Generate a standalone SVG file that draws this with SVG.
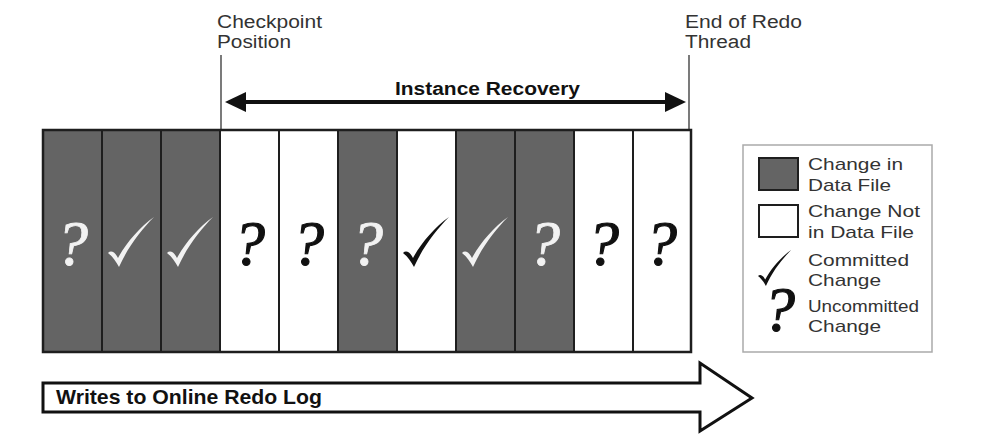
<svg xmlns="http://www.w3.org/2000/svg" width="984" height="440" viewBox="0 0 984 440">
<style>
.lbl{font-family:"Liberation Sans",Arial,sans-serif;font-size:18px;fill:#333}
.leg{font-family:"Liberation Sans",Arial,sans-serif;font-size:17px;fill:#333}
.bold{font-family:"Liberation Sans",Arial,sans-serif;font-weight:bold;fill:#111}
.q{font-family:"Liberation Serif","Times New Roman",serif;font-style:italic;font-size:64px;text-anchor:middle}
.dark{fill:#646464;stroke:#1e1e1e;stroke-width:2}
.light{fill:#fff;stroke:#1e1e1e;stroke-width:2}
.wq{fill:#f2f2f2;stroke:#f2f2f2;stroke-width:0.8}
.bq{fill:#111;stroke:#111;stroke-width:1.1}
.guide{stroke:#333;stroke-width:1.3;fill:none}
</style>
<defs>
<path id="check" d="M0,36 C3,33 7,35 10,41 C18,26 32,10 46,0 C33,13 20,30 11,50 C8,44 4,39 0,36 Z"/>
</defs>
<rect width="984" height="440" fill="#fff"/>

<g id="labels">
<text class="lbl" x="217" y="28" textLength="105" lengthAdjust="spacingAndGlyphs">Checkpoint</text>
<text class="lbl" x="217" y="48" textLength="74" lengthAdjust="spacingAndGlyphs">Position</text>
<text class="lbl" x="685" y="28" textLength="117" lengthAdjust="spacingAndGlyphs">End of Redo</text>
<text class="lbl" x="685" y="48" textLength="66" lengthAdjust="spacingAndGlyphs">Thread</text>
</g>

<g id="connectors">
<line class="guide" x1="221" y1="55" x2="221" y2="130"/>
<line class="guide" x1="689" y1="55" x2="689" y2="130"/>
<line x1="240" y1="102" x2="670" y2="102" stroke="#111" stroke-width="4"/>
<polygon points="225,102 246,92 246,112" fill="#111"/>
<polygon points="686,102 665,92 665,112" fill="#111"/>
<text class="bold" x="395" y="95" font-size="18" textLength="185" lengthAdjust="spacingAndGlyphs">Instance Recovery</text>
</g>

<g id="log">
<rect id="cell1" class="dark" x="43" y="130" width="59" height="222"/>
<rect id="cell2" class="dark" x="102" y="130" width="59" height="222"/>
<rect id="cell3" class="dark" x="161" y="130" width="59" height="222"/>
<rect id="cell4" class="light" x="220" y="130" width="59" height="222"/>
<rect id="cell5" class="light" x="279" y="130" width="59" height="222"/>
<rect id="cell6" class="dark" x="338" y="130" width="59" height="222"/>
<rect id="cell7" class="light" x="397" y="130" width="59" height="222"/>
<rect id="cell8" class="dark" x="456" y="130" width="59" height="222"/>
<rect id="cell9" class="dark" x="515" y="130" width="59" height="222"/>
<rect id="cell10" class="light" x="574" y="130" width="59" height="222"/>
<rect id="cell11" class="light" x="633" y="130" width="58" height="222"/>
<rect x="43" y="130" width="648" height="222" fill="none" stroke="#1e1e1e" stroke-width="2.5"/>

<text class="q wq" x="72" y="265">?</text>
<use href="#check" fill="#f2f2f2" transform="translate(108,217)"/>
<use href="#check" fill="#f2f2f2" transform="translate(167,217)"/>
<text class="q bq" x="249" y="265">?</text>
<text class="q bq" x="308" y="265">?</text>
<text class="q wq" x="367" y="265">?</text>
<use href="#check" fill="#111" transform="translate(403,217)"/>
<use href="#check" fill="#f2f2f2" transform="translate(462,217)"/>
<text class="q wq" x="544" y="265">?</text>
<text class="q bq" x="603" y="265">?</text>
<text class="q bq" x="661" y="265">?</text>
</g>

<g id="legend">
<rect x="743" y="145" width="189" height="207" fill="#fff" stroke="#aaa" stroke-width="1.5"/>
<rect x="759" y="158" width="39" height="32" fill="#646464" stroke="#1e1e1e" stroke-width="2"/>
<rect x="759" y="205" width="39" height="32" fill="#fff" stroke="#1e1e1e" stroke-width="2"/>
<use href="#check" fill="#111" transform="translate(758,250) scale(0.72)"/>
<text class="q bq" x="779" y="331" font-size="46" stroke-width="0.5">?</text>
<text class="leg" x="808" y="170" textLength="95" lengthAdjust="spacingAndGlyphs">Change in</text>
<text class="leg" x="808" y="191" textLength="83" lengthAdjust="spacingAndGlyphs">Data File</text>
<text class="leg" x="808" y="217" textLength="112" lengthAdjust="spacingAndGlyphs">Change Not</text>
<text class="leg" x="808" y="238" textLength="106" lengthAdjust="spacingAndGlyphs">in Data File</text>
<text class="leg" x="808" y="266" textLength="101" lengthAdjust="spacingAndGlyphs">Committed</text>
<text class="leg" x="808" y="286" textLength="73" lengthAdjust="spacingAndGlyphs">Change</text>
<text class="leg" x="808" y="312" textLength="111" lengthAdjust="spacingAndGlyphs">Uncommitted</text>
<text class="leg" x="808" y="332" textLength="73" lengthAdjust="spacingAndGlyphs">Change</text>
</g>

<g id="writes-arrow">
<polygon points="43,383 700,383 700,363 752,398 700,431 700,412 43,412" fill="#fff" stroke="#111" stroke-width="3" stroke-linejoin="miter"/>
<text class="bold" x="56" y="404" font-size="21" textLength="266" lengthAdjust="spacingAndGlyphs">Writes to Online Redo Log</text>
</g>
</svg>
